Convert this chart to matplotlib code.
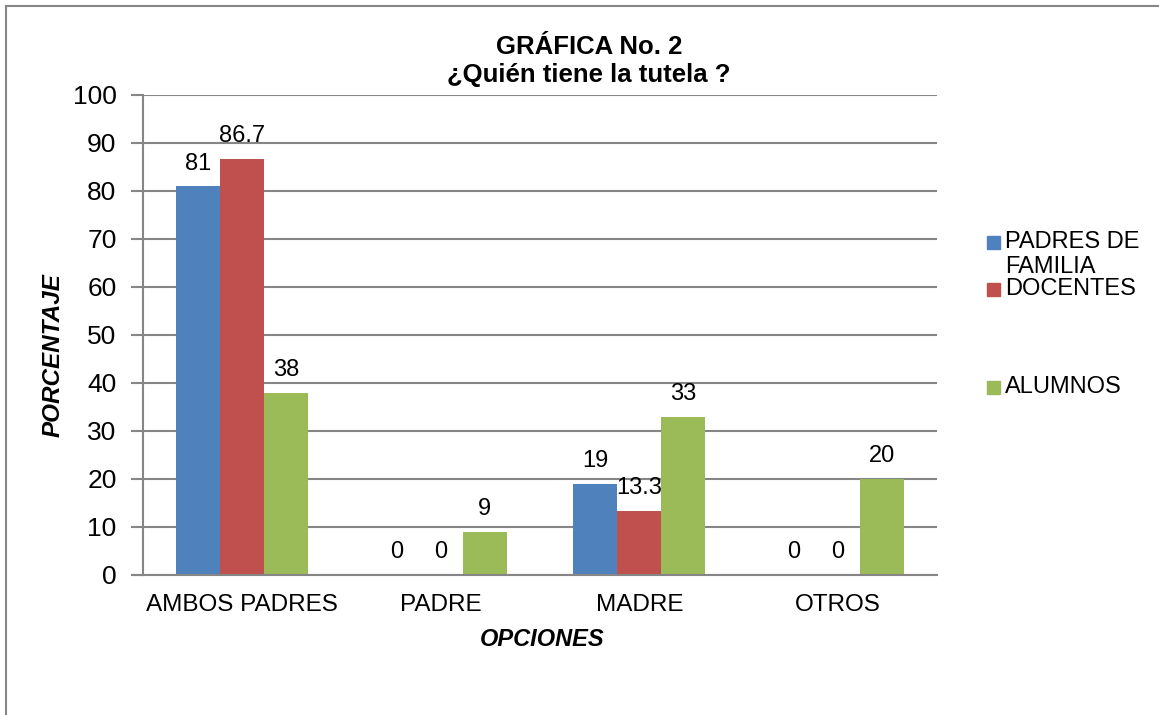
import matplotlib
matplotlib.use("Agg")
import matplotlib.pyplot as plt
import numpy as np
from matplotlib.lines import Line2D
from matplotlib.patches import Rectangle

plt.rcParams["font.family"] = ["Liberation Sans", "DejaVu Sans"]

# datos
categorias = ["AMBOS PADRES", "PADRE", "MADRE", "OTROS"]
series = ["PADRES DE\nFAMILIA", "DOCENTES", "ALUMNOS"]
padres_familia = [81, 0, 19, 0]
docentes = [86.7, 0, 13.3, 0]
alumnos = [38, 9, 33, 20]
valores = [padres_familia, docentes, alumnos]
colores = ["#4F81BD", "#C0504D", "#9BBB59"]
GRIS = "#868686"

W, H = 1159, 715
fig = plt.figure(figsize=(W / 100, H / 100), dpi=100)
fig.patch.set_facecolor("white")

def fx(px):
    return px / W

def fy(py):
    return 1 - py / H

# borde exterior (solo arriba e izquierda visibles)
fig.add_artist(Line2D([fx(6), fx(6)], [fy(6), fy(720)], transform=fig.transFigure, color=GRIS, lw=1.5))
fig.add_artist(Line2D([fx(6), fx(1170)], [fy(6), fy(6)], transform=fig.transFigure, color=GRIS, lw=1.5))

ax = fig.add_axes([fx(143), fy(575), fx(937) - fx(143), fy(95) - fy(575)])

x = np.arange(len(categorias))
ancho = 0.222
for i, (vals, col) in enumerate(zip(valores, colores)):
    pos = x + (i - 1) * ancho
    ax.bar(pos, vals, width=ancho, color=col, zorder=3)
    for p, v in zip(pos, vals):
        etiqueta = f"{v:g}"
        ax.annotate(etiqueta, (p, v), xytext=(0, 12), textcoords="offset points",
                    ha="center", va="baseline", fontsize=17, zorder=4)

ax.set_xlim(-0.5, len(categorias) - 0.5)
ax.set_ylim(0, 100)
ax.set_yticks(range(0, 101, 10))
ax.set_xticks(x)
ax.set_xticklabels(categorias)
ax.tick_params(axis="x", length=0, labelsize=17.5, pad=14)
ax.tick_params(axis="y", length=9, width=1.5, color=GRIS, labelsize=19, pad=10)
ax.yaxis.grid(True, color=GRIS, lw=1.5, zorder=0)
for s in ("top", "right"):
    ax.spines[s].set_visible(False)
for s in ("left", "bottom"):
    ax.spines[s].set_color(GRIS)
    ax.spines[s].set_linewidth(1.5)
ax.spines["bottom"].set_zorder(5)
# el eje x se prolonga un poco a la izquierda
fig.add_artist(Line2D([fx(134), fx(143)], [fy(575), fy(575)], transform=fig.transFigure, color=GRIS, lw=1.5))

fig.text(fx(589), fy(61), "GRÁFICA No. 2\n¿Quién tiene la tutela ?", ha="center", va="center",
         fontsize=18.5, fontweight="bold", linespacing=1.18)
fig.text(fx(542), fy(640), "OPCIONES", ha="center", va="center", fontsize=17,
         fontweight="bold", style="italic")
fig.text(fx(53), fy(355), "PORCENTAJE", ha="center", va="center", fontsize=17.5,
         fontweight="bold", style="italic", rotation=90)

# leyenda manual
ley_y = [242, 289, 387]
for nombre, col, yy in zip(series, colores, ley_y):
    fig.add_artist(Rectangle((fx(987), fy(yy + 6.5)), fx(13), 13 / H, transform=fig.transFigure,
                             color=col))
    fig.text(fx(1005), fy(yy - 11), nombre, ha="left", va="top", fontsize=17, linespacing=1.15)

fig.savefig("out.png", dpi=100)
